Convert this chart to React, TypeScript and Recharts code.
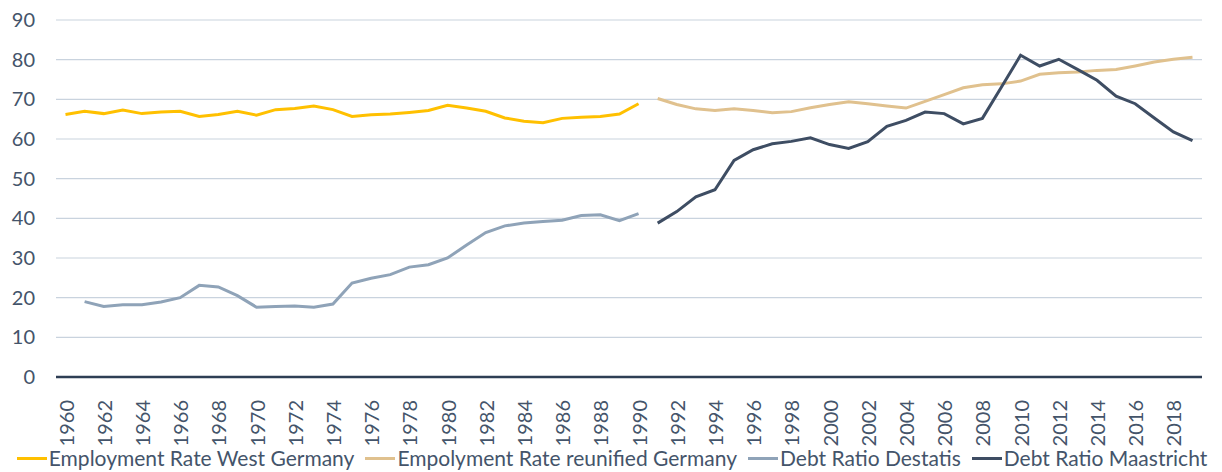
import { LineChart, Line, XAxis, YAxis, CartesianGrid, Legend } from 'recharts';

// years 1960..2019
const years: number[] = [
  1960, 1961, 1962, 1963, 1964, 1965, 1966, 1967, 1968, 1969,
  1970, 1971, 1972, 1973, 1974, 1975, 1976, 1977, 1978, 1979,
  1980, 1981, 1982, 1983, 1984, 1985, 1986, 1987, 1988, 1989,
  1990, 1991, 1992, 1993, 1994, 1995, 1996, 1997, 1998, 1999,
  2000, 2001, 2002, 2003, 2004, 2005, 2006, 2007, 2008, 2009,
  2010, 2011, 2012, 2013, 2014, 2015, 2016, 2017, 2018, 2019,
];

// 1960..1990
const employmentWest: number[] = [
  66.2, 67.0, 66.4, 67.3, 66.4, 66.8, 67.0, 65.7, 66.2, 67.0,
  66.0, 67.4, 67.7, 68.3, 67.4, 65.7, 66.1, 66.3, 66.7, 67.2,
  68.5, 67.8, 67.0, 65.3, 64.5, 64.1, 65.2, 65.5, 65.7, 66.3,
  68.9,
];

// 1991..2019
const employmentReunified: number[] = [
  70.2, 68.7, 67.6, 67.2, 67.6, 67.2, 66.6, 66.9, 67.9, 68.7,
  69.4, 68.9, 68.3, 67.8, 69.5, 71.2, 72.9, 73.7, 73.9, 74.6,
  76.3, 76.7, 76.9, 77.3, 77.5, 78.4, 79.4, 80.1, 80.6,
];

// 1961..1990
const debtDestatis: number[] = [
  19.0, 17.8, 18.2, 18.2, 18.9, 20.0, 23.1, 22.7, 20.5, 17.6,
  17.8, 17.9, 17.6, 18.4, 23.7, 24.9, 25.8, 27.7, 28.3, 30.0,
  33.3, 36.4, 38.1, 38.8, 39.2, 39.5, 40.7, 40.9, 39.4, 41.2,
];

// 1991..2019
const debtMaastricht: number[] = [
  38.8, 41.7, 45.4, 47.2, 54.6, 57.3, 58.8, 59.4, 60.3, 58.6,
  57.6, 59.3, 63.2, 64.7, 66.8, 66.4, 63.8, 65.2, 73.1, 81.1,
  78.4, 80.1, 77.5, 74.8, 70.8, 68.9, 65.3, 61.8, 59.6,
];

const yTicks = [0, 10, 20, 30, 40, 50, 60, 70, 80, 90];

const seriesNames = [
  'Employment Rate West Germany',
  'Empolyment Rate reunified Germany',
  'Debt Ratio Destatis',
  'Debt Ratio Maastricht',
];
const COLORS = ['#FFC000', '#E0C18E', '#8FA3B8', '#3E4D63'];

const FONT = 'Lato, "Liberation Sans", sans-serif';
const TEXT_COLOR = '#44546A';

const pick = (arr: number[], start: number, year: number) => {
  const v = arr[year - start];
  return v === undefined ? null : v;
};

const data = years.map((year) => ({
  year: String(year),
  west: pick(employmentWest, 1960, year),
  reunified: pick(employmentReunified, 1991, year),
  destatis: pick(debtDestatis, 1961, year),
  maastricht: pick(debtMaastricht, 1991, year),
}));

const YearTick = (props: any) => {
  const { x, y, payload } = props;
  return (
    <text
      x={0}
      y={0}
      transform={`translate(${x},${y + 15}) rotate(-90)`}
      textAnchor="end"
      dominantBaseline="central"
      fill={TEXT_COLOR}
      fontSize={20}
      fontFamily={FONT}
    >
      {payload.value}
    </text>
  );
};

const renderLegend = () => (
  <div
    style={{
      display: 'flex',
      justifyContent: 'center',
      gap: 11,
      fontFamily: FONT,
      fontSize: 21,
      lineHeight: '24px',
      color: TEXT_COLOR,
      whiteSpace: 'nowrap',
      paddingLeft: 22,
    }}
  >
    {seriesNames.map((name, i) => (
      <div key={name} style={{ display: 'flex', alignItems: 'center' }}>
        <span
          style={{
            display: 'inline-block',
            width: 30,
            height: 3,
            background: COLORS[i],
            marginRight: 2,
          }}
        />
        <span>{name}</span>
      </div>
    ))}
  </div>
);

export default function App() {
  return (
    <div style={{ position: 'absolute', left: 0, top: 0 }}>
      <LineChart
        width={1222}
        height={472}
        data={data}
        margin={{ top: 20, right: 20, left: 0, bottom: 0 }}
      >
        <CartesianGrid vertical={false} stroke="#C9D3DE" strokeWidth={1.2} />
        <XAxis
          dataKey="year"
          interval={1}
          tick={<YearTick />}
          tickLine={false}
          axisLine={{ stroke: '#2E3E54', strokeWidth: 2.5 }}
          padding={{ left: 9.5, right: 9.5 }}
          height={69}
        />
        <YAxis
          domain={[0, 90]}
          ticks={yTicks}
          width={56}
          axisLine={false}
          tickLine={false}
          tickSize={0}
          tickMargin={21}
          tick={{ fill: TEXT_COLOR, fontSize: 20, fontFamily: FONT }}
        />
        <Legend
          verticalAlign="bottom"
          height={26}
          content={renderLegend}
          wrapperStyle={{ bottom: 0, height: 26 }}
        />
        <Line dataKey="west" name={seriesNames[0]} stroke={COLORS[0]} strokeWidth={3} dot={false} isAnimationActive={false} />
        <Line dataKey="reunified" name={seriesNames[1]} stroke={COLORS[1]} strokeWidth={3} dot={false} isAnimationActive={false} />
        <Line dataKey="destatis" name={seriesNames[2]} stroke={COLORS[2]} strokeWidth={3} dot={false} isAnimationActive={false} />
        <Line dataKey="maastricht" name={seriesNames[3]} stroke={COLORS[3]} strokeWidth={3} dot={false} isAnimationActive={false} />
      </LineChart>
    </div>
  );
}
